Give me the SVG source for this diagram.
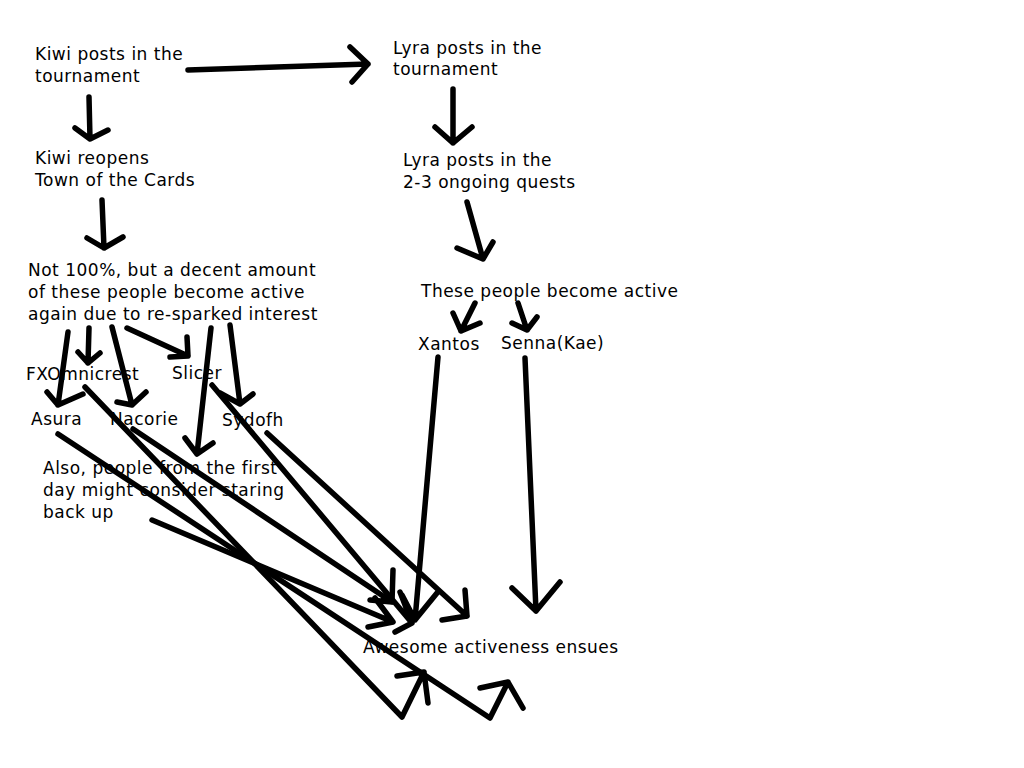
<svg xmlns="http://www.w3.org/2000/svg" width="1024" height="768" viewBox="0 0 1024 768">
<style>
text{font-family:"DejaVu Sans","Liberation Sans",sans-serif;font-size:17px;letter-spacing:0.5px;fill:#000}
.c path{fill:none;stroke:#000;stroke-width:5.5;stroke-linecap:round;stroke-linejoin:round}
</style>
<rect width="1024" height="768" fill="#fff"/>
<g id="kiwi-posts"><text x="35" y="60">Kiwi posts in the</text><text x="35" y="82">tournament</text></g>
<g id="lyra-posts"><text x="393" y="54">Lyra posts in the</text><text x="393" y="75">tournament</text></g>
<g id="kiwi-reopens"><text x="35" y="164">Kiwi reopens</text><text x="35" y="186">Town of the Cards</text></g>
<g id="lyra-quests"><text x="403" y="166">Lyra posts in the</text><text x="403" y="188">2-3 ongoing quests</text></g>
<g id="not100"><text x="28" y="276">Not 100%, but a decent amount</text><text x="28" y="298">of these people become active</text><text x="28" y="320">again due to re-sparked interest</text></g>
<g id="these-people"><text x="421" y="297">These people become active</text></g>
<g id="xantos"><text x="418" y="350">Xantos</text></g>
<g id="senna"><text x="501" y="349">Senna(Kae)</text></g>
<g id="fxomnicrest"><text x="26" y="380">FXOmnicrest</text></g>
<g id="slicer"><text x="172" y="379">Slicer</text></g>
<g id="asura"><text x="31" y="425">Asura</text></g>
<g id="nacorie"><text x="110" y="425">Nacorie</text></g>
<g id="sydofh"><text x="222" y="426">Sydofh</text></g>
<g id="also"><text x="43" y="474">Also, people from the first</text><text x="43" y="496">day might consider staring</text><text x="43" y="518">back up</text></g>
<g id="awesome"><text x="363" y="653">Awesome activeness ensues</text></g>
<g class="c" id="connectors">
<path d="M188 70L368 64M350 47L368 64L352 82"/>
<path d="M89 97L90 139M75 128L90 139L108 130"/>
<path d="M102 200L104 248M87 238L104 248L123 237"/>
<path d="M453 89L453 143M435 127L453 143L472 127"/>
<path d="M467 202L483 259M457 248L483 259L493 242"/>
<path d="M475 303L461 331M453 313L461 331L480 323"/>
<path d="M518 303L527 330M512 323L527 330L537 317"/>
<path d="M68 332L58 405M47 392L58 405L83 394"/>
<path d="M89 328L88 363M78 352L88 363L100 353"/>
<path d="M112 327L132 405M117 402L132 405L146 392"/>
<path d="M127 328L188 356M170 357L188 356L187 337"/>
<path d="M211 328L197 454M185 438L197 454L213 443"/>
<path d="M230 325L240 404M220 393L240 404L253 394"/>
<path d="M85 387L402 717L424 672M397 676L424 672L428 703"/>
<path d="M58 434L490 718L508 682M480 688L508 682L523 708"/>
<path d="M133 429L392 602M393 570L392 602L370 600"/>
<path d="M212 385L412 623M400 592L412 623L395 632"/>
<path d="M267 433L467 616M465 590L467 616L442 620"/>
<path d="M152 520L393 622M375 598L393 622L368 627"/>
<path d="M438 357L415 620M402 595L415 620L437 593"/>
<path d="M525 358L536 611M512 588L536 611L560 582"/>
</g>
</svg>
